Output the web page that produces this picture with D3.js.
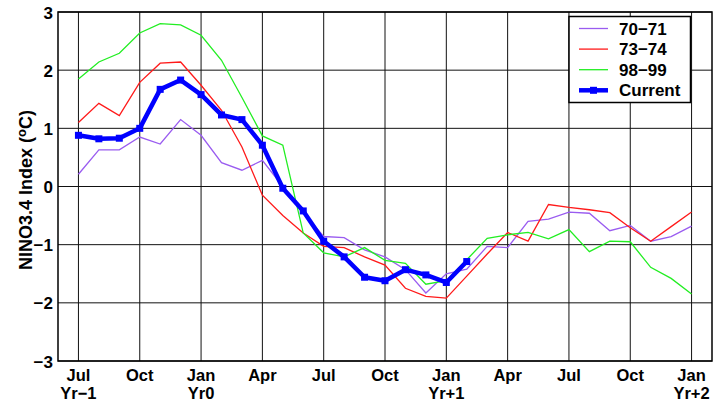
<!DOCTYPE html>
<html><head><meta charset="utf-8">
<script src="https://cdn.jsdelivr.net/npm/d3@7"></script>
<style>body{margin:0;background:#fff}svg{display:block}text{font-family:"Liberation Sans",Arial,sans-serif;font-weight:bold}</style>
</head><body><svg id="c" width="717" height="404"></svg>
<script>
const monthIdx = d3.range(0, 31);
const tickIdx = [0,3,6,9,12,15,18,21,24,27,30];
const tickTop = ["Jul","Oct","Jan","Apr","Jul","Oct","Jan","Apr","Jul","Oct","Jan"];
const tickBottom = ["Yr\u22121","","Yr0","","","","Yr+1","","","","Yr+2"];
const yTicks = [-3,-2,-1,0,1,2,3];
const s7071 = [0.21,0.63,0.63,0.85,0.73,1.15,0.88,0.41,0.28,0.45,0.00,-0.45,-0.86,-0.88,-1.09,-1.21,-1.43,-1.83,-1.50,-1.42,-1.03,-1.05,-0.60,-0.56,-0.44,-0.46,-0.76,-0.67,-0.94,-0.86,-0.68];
const s7374 = [1.10,1.43,1.22,1.79,2.12,2.14,1.74,1.31,0.68,-0.15,-0.50,-0.80,-1.03,-1.05,-1.21,-1.35,-1.75,-1.89,-1.92,-1.54,-1.16,-0.79,-0.94,-0.31,-0.36,-0.40,-0.45,-0.71,-0.94,-0.69,-0.44];
const s9899 = [1.85,2.14,2.29,2.64,2.80,2.78,2.60,2.17,1.53,0.87,0.71,-0.80,-1.14,-1.21,-1.05,-1.27,-1.32,-1.68,-1.62,-1.26,-0.89,-0.83,-0.79,-0.90,-0.74,-1.12,-0.94,-0.95,-1.39,-1.58,-1.85];
const current = [0.88,0.82,0.83,1.00,1.67,1.83,1.58,1.23,1.15,0.71,-0.03,-0.42,-0.94,-1.21,-1.56,-1.62,-1.43,-1.52,-1.65,-1.29];
const seriesNames = ["70\u221271","73\u221274","98\u221299","Current"];
const seriesColors = ["#9a5cf0","#ff1a1a","#22ee22","#0000ff"];

const svg = d3.select("#c");
const L=58,R=712,T=12,B=361;
const x = d3.scaleLinear().domain([-1,31]).range([L,R]);
const y = d3.scaleLinear().domain([-3,3]).range([B,T]);

// grid
const g = svg.append("g");
g.selectAll(".gx").data(tickIdx).enter().append("line")
 .attr("x1",d=>x(d)).attr("x2",d=>x(d)).attr("y1",T).attr("y2",B)
 .attr("stroke","#111").attr("stroke-width",1);
g.selectAll(".gy").data(yTicks).enter().append("line")
 .attr("x1",L).attr("x2",R).attr("y1",d=>y(d)).attr("y2",d=>y(d))
 .attr("stroke","#111").attr("stroke-width",1);
svg.append("rect").attr("x",L).attr("y",T).attr("width",R-L).attr("height",B-T)
 .attr("fill","none").attr("stroke","#000").attr("stroke-width",1.5);

// y axis labels
svg.selectAll(".yl").data(yTicks).enter().append("text")
 .attr("x",L-5).attr("y",d=>y(d)+6.5).attr("text-anchor","end")
 .attr("font-size",17).text(d=>d<0?"\u2212"+Math.abs(d):d);
// x axis labels
svg.selectAll(".xl").data(tickIdx).enter().append("text")
 .attr("x",d=>x(d)).attr("y",380.5).attr("text-anchor","middle").attr("font-size",16.5)
 .text((d,i)=>tickTop[i]);
svg.selectAll(".xl2").data(tickIdx).enter().append("text")
 .attr("x",d=>x(d)).attr("y",399).attr("text-anchor","middle").attr("font-size",16.5)
 .text((d,i)=>tickBottom[i]);
// y title
const yt = svg.append("text").attr("transform","translate(31.5,190) rotate(-90)")
 .attr("text-anchor","middle").attr("font-size",18);
yt.append("tspan").text("NINO3.4 Index (");
yt.append("tspan").attr("font-size",13).attr("dy",-6).text("o");
yt.append("tspan").attr("dy",6).text("C)");

// lines
const line = d3.line().x((d,i)=>x(monthIdx[i])).y(d=>y(d));
[s7071,s7374,s9899].forEach((s,k)=>{
  svg.append("path").attr("d",line(s)).attr("fill","none")
   .attr("stroke",seriesColors[k]).attr("stroke-width",1.3);
});
svg.append("path").attr("d",line(current)).attr("fill","none")
 .attr("stroke",seriesColors[3]).attr("stroke-width",4.5).attr("stroke-linejoin","round");
svg.selectAll(".mk").data(current).enter().append("rect")
 .attr("x",(d,i)=>x(monthIdx[i])-3.5).attr("y",d=>y(d)-3.5)
 .attr("width",7).attr("height",7).attr("fill",seriesColors[3]);

// legend
const lg = svg.append("g");
lg.append("rect").attr("x",569).attr("y",16.5).attr("width",121.5).attr("height",86)
 .attr("fill","#fff").attr("stroke","#000").attr("stroke-width",1.5);
seriesNames.forEach((n,k)=>{
  const yy = 28.5 + k*20.6;
  lg.append("line").attr("x1",579).attr("x2",608).attr("y1",yy).attr("y2",yy)
   .attr("stroke",seriesColors[k]).attr("stroke-width",k==3?4.5:1.3);
  if(k==3) lg.append("rect").attr("x",590).attr("y",yy-3.5).attr("width",7).attr("height",7).attr("fill",seriesColors[3]);
  lg.append("text").attr("x",619).attr("y",yy+6).attr("font-size",17).text(n);
});
</script></body></html>
